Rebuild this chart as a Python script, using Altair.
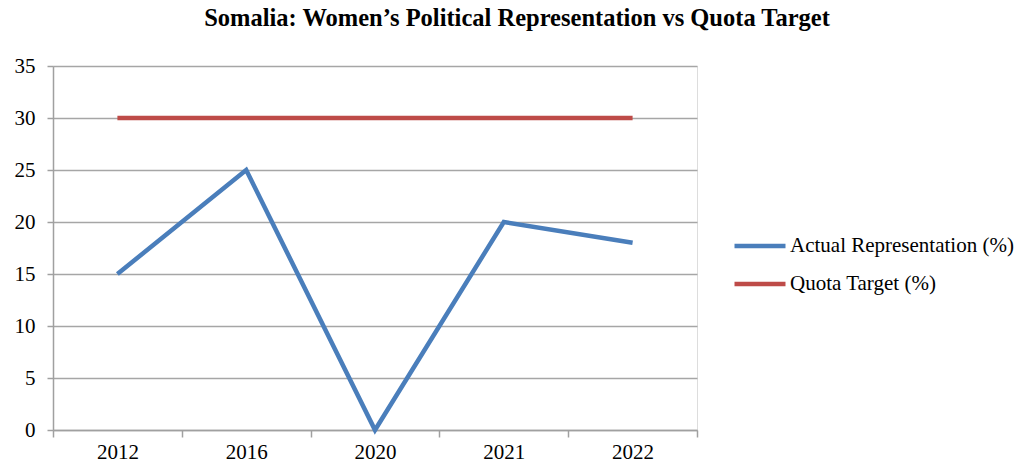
import altair as alt
import pandas as pd

years = ["2012", "2016", "2020", "2021", "2022"]
actual = [15, 25, 0, 20, 18]
quota = [30, 30, 30, 30, 30]
series_names = ["Actual Representation (%)", "Quota Target (%)"]
colors = ["#4A7EBB", "#BE4B48"]

rows = []
for i, y in enumerate(years):
    rows.append({"idx": i, "year": y, "series": series_names[0], "value": actual[i]})
for i, y in enumerate(years):
    rows.append({"idx": i, "year": y, "series": series_names[1], "value": quota[i]})
df = pd.DataFrame(rows)

FONT = "Liberation Serif, Times New Roman, serif"
label_expr = "datum.value % 1 === 0 ? [" + ",".join("'%s'" % y for y in years) + "][datum.value] : ''"
x_vals = [i * 0.5 - 0.5 for i in range(2 * len(years) + 1)]

chart = alt.Chart(df).mark_line(strokeWidth=4.5).encode(
    x=alt.X("idx:Q",
            scale=alt.Scale(domain=[-0.5, len(years) - 0.5], nice=False, zero=False),
            axis=alt.Axis(title=None, values=x_vals, labelExpr=label_expr,
                          grid=False, domainColor="#a0a0a0", domainWidth=1.5,
                          tickColor="#a0a0a0", tickWidth=1.5, tickSize=7,
                          tickOpacity={"condition": {"test": "datum.value % 1 === 0", "value": 0}, "value": 1},
                          labelFont=FONT, labelFontSize=21, labelColor="#000000",
                          labelPadding=4, labelFlush=False, labelOverlap=False)),
    y=alt.Y("value:Q",
            scale=alt.Scale(domain=[0, 35], nice=False),
            axis=alt.Axis(title=None, values=list(range(0, 36, 5)), grid=True,
                          gridColor="#a6a6a6", gridWidth=1.5,
                          domainColor="#a0a0a0", domainWidth=1.5,
                          tickColor="#a0a0a0", tickWidth=1.5, tickSize=6,
                          labelFont=FONT, labelFontSize=21, labelColor="#000000",
                          labelPadding=12)),
    color=alt.Color("series:N",
                    scale=alt.Scale(domain=series_names, range=colors),
                    legend=alt.Legend(title=None, orient="none", legendX=679, legendY=152,
                                      symbolType="stroke", symbolStrokeWidth=4.5, symbolSize=2600,
                                      labelFont=FONT, labelFontSize=21, labelColor="#000000",
                                      labelLimit=400, rowPadding=-14, labelOffset=2)),
    order="idx:Q",
).properties(
    width=644,
    height=364,
    title=alt.TitleParams("Somalia: Women’s Political Representation vs Quota Target",
                          font=FONT, fontSize=24.5, fontWeight="bold", color="#000000",
                          anchor="middle", dx=142, offset=24),
    autosize=alt.AutoSizeParams(type="none"),
    padding={"left": 53, "top": 66, "right": 325, "bottom": 34},
).configure_view(stroke=None).configure(background="white").configure_axis(
    labelFont=FONT
).configure_legend(labelFont=FONT)

chart.save("out.html", embed_options={"renderer": "svg", "actions": False})
